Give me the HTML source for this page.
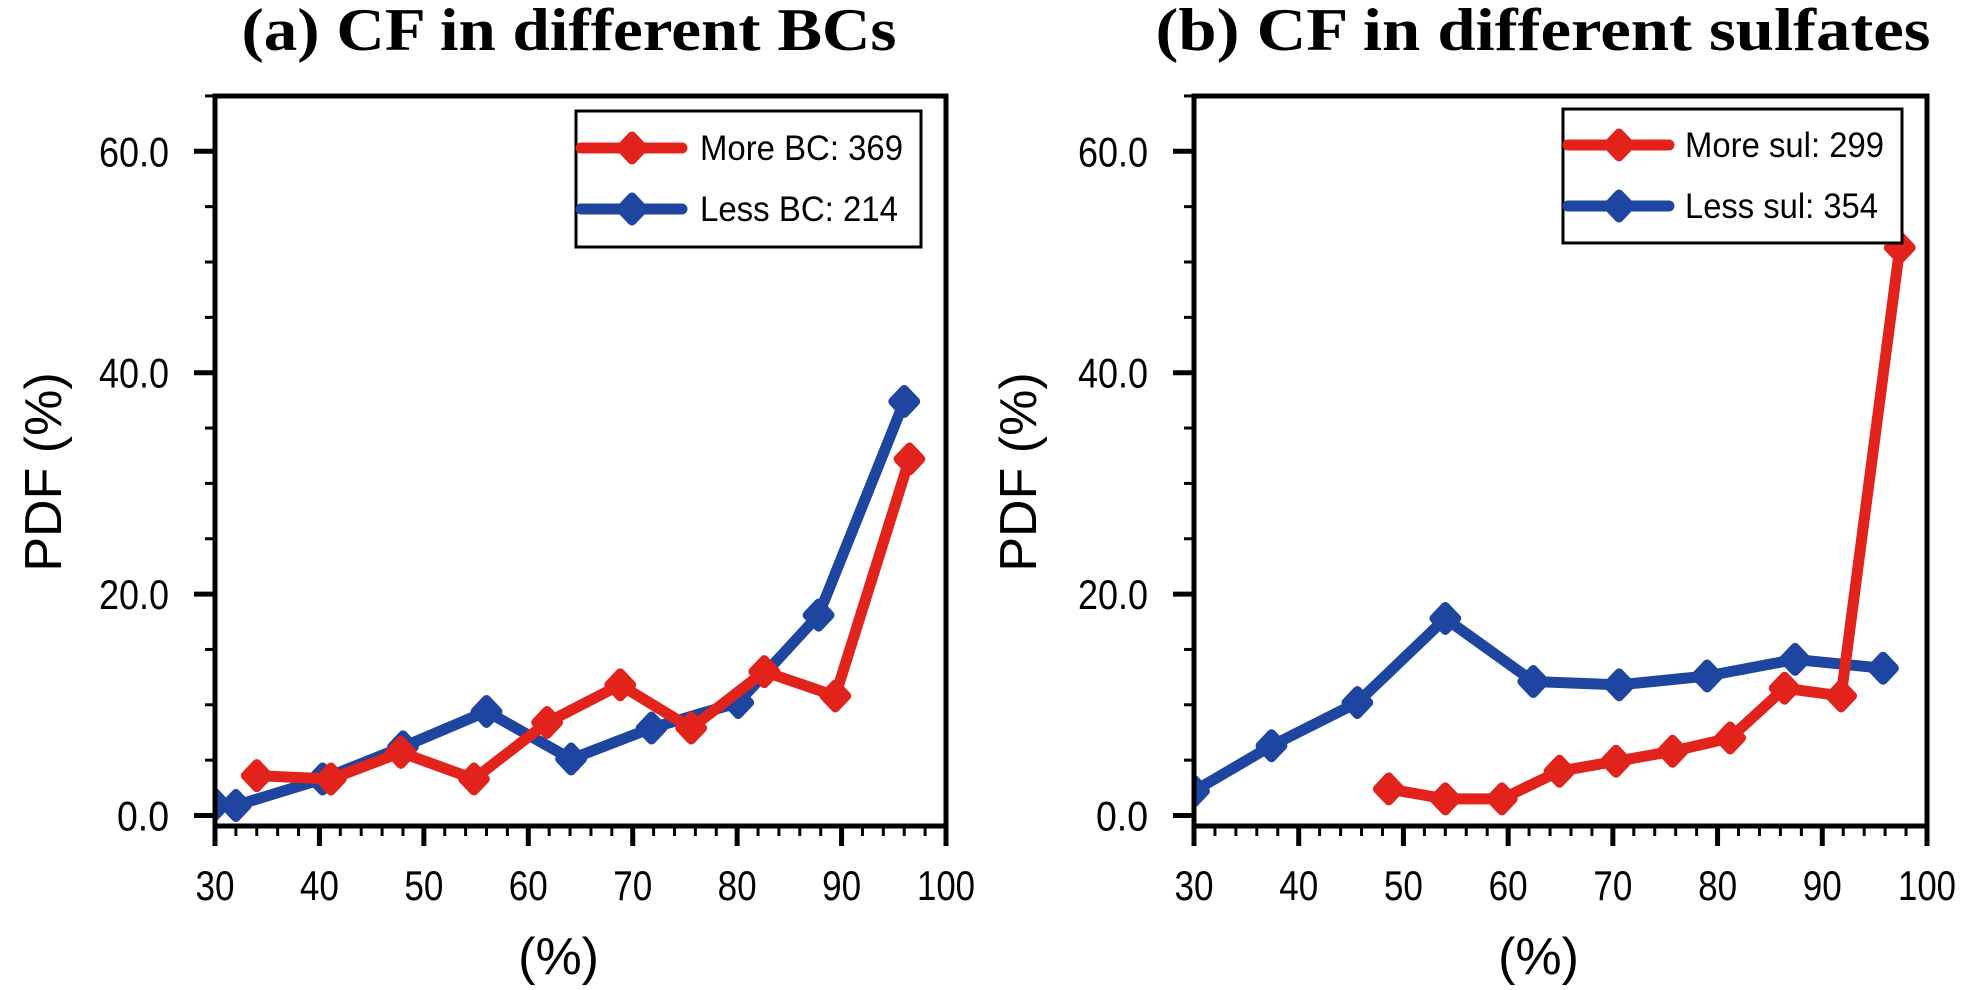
<!DOCTYPE html>
<html><head><meta charset="utf-8"><style>
html,body{margin:0;padding:0;background:#fff;}
svg{display:block;}
</style></head><body>
<svg id="chart" width="1961" height="990" viewBox="0 0 1961 990" xmlns="http://www.w3.org/2000/svg">
<defs>
<clipPath id="clipA"><rect x="215" y="96" width="731" height="730"/></clipPath>
<clipPath id="clipB"><rect x="1194" y="96" width="733" height="730"/></clipPath>
</defs>
<g id="panelA"></g>
<g id="panelB"></g>
</svg>
<script>
// Panel (a) data
const aMoreX = [34.0, 41.1, 47.8, 54.8, 61.8, 68.8, 75.6, 82.6, 89.4, 96.5];
const aMoreY = [3.6, 3.3, 5.7, 3.3, 8.4, 11.8, 7.9, 13.0, 10.8, 32.2];
const aLessX = [30.0, 32.0, 40.3, 48.0, 56.0, 64.1, 71.8, 80.1, 87.8, 96.0];
const aLessY = [1.0, 0.9, 3.3, 6.2, 9.4, 5.1, 7.9, 10.2, 18.1, 37.4];
// Panel (b) data
const bMoreX = [48.6, 54.0, 59.4, 64.9, 70.3, 75.7, 81.2, 86.4, 91.8, 97.4];
const bMoreY = [2.4, 1.5, 1.5, 4.0, 4.9, 5.8, 7.0, 11.5, 10.8, 51.3];
const bLessX = [30.0, 37.4, 45.6, 54.0, 62.4, 70.6, 79.0, 87.4, 95.8];
const bLessY = [2.2, 6.3, 10.2, 17.8, 12.1, 11.8, 12.6, 14.1, 13.3];
const xTicks = [30, 40, 50, 60, 70, 80, 90, 100];
const yTicks = [0, 20, 40, 60];
const yTickLabels = ["0.0", "20.0", "40.0", "60.0"];
const legendA = ["More BC: 369", "Less BC: 214"];
const legendB = ["More sul: 299", "Less sul: 354"];

const NS = "http://www.w3.org/2000/svg";
const RED = "#e2231c", BLUE = "#1e45a0";
function mk(tag, attrs, parent){const e=document.createElementNS(NS,tag);for(const k in attrs)e.setAttribute(k,attrs[k]);parent.appendChild(e);return e;}

const TOP=96, BOT=826, Y0=815.5, YS=11.07;
function yScale(v){return Y0 - v*YS;}

function diamond(cx,cy,color,parent,name){
  const r=12;
  const p=mk('path',{d:`M${cx},${cy-r} L${cx+r*0.95},${cy} L${cx},${cy+r} L${cx-r*0.95},${cy} Z`,fill:color,stroke:color,'stroke-width':9,'stroke-linejoin':'round'},parent);
  
  
  return p;
}

function drawPanel(g, L, R, clipId, title, titleCx, titleW, ylabX, series, legend, lg){
  const xScale = v => L + (v-30)/70*(R-L);
  const t=mk('text',{x:titleCx,y:50,'text-anchor':'middle','font-family':'"Liberation Serif",serif','font-weight':'bold','font-size':60,textLength:titleW,lengthAdjust:'spacingAndGlyphs'},g);
  t.textContent=title;
  
  
  const yl=mk('text',{x:0,y:0,transform:`translate(${ylabX},472) rotate(-90)`,'text-anchor':'middle','dominant-baseline':'central','font-family':'"Liberation Sans",sans-serif','font-size':52},g);
  yl.textContent='PDF (%)';
  
  
  const xl=mk('text',{x:(L+R)/2-(R-L)*0.03,y:974,'text-anchor':'middle','font-family':'"Liberation Sans",sans-serif','font-size':52},g);
  xl.textContent='(%)';
  
  
  for(let v=0; v<=65; v+=5){
    const y=yScale(v);
    const major = v%20===0;
    const tk=mk('line',{x1:L,x2:L-(major?21:10),y1:y,y2:y,stroke:'#000','stroke-width':major?5:3},g);
    
    
  }
  yTicks.forEach((v,i)=>{
    const tl=mk('text',{x:L-46,y:yScale(v)+15,'text-anchor':'end','font-family':'"Liberation Sans",sans-serif','font-size':42,textLength:yTickLabels[i].length===3?52:70,lengthAdjust:'spacingAndGlyphs'},g);
    tl.textContent=yTickLabels[i];
    
    
  });
  for(let v=30; v<=100; v+=2){
    const x=xScale(v);
    const major=v%10===0;
    const tk=mk('line',{x1:x,x2:x,y1:BOT,y2:BOT+(major?20:10),stroke:'#000','stroke-width':major?5:3},g);
    
    
  }
  xTicks.forEach(v=>{
    const tl=mk('text',{x:xScale(v),y:900,'text-anchor':'middle','font-family':'"Liberation Sans",sans-serif','font-size':42,textLength:v===100?58:39,lengthAdjust:'spacingAndGlyphs'},g);
    tl.textContent=String(v);
    
    
  });
  const sg=mk('g',{'clip-path':`url(#${clipId})`},g);
  
  
  series.forEach(s=>{
    const pts=s.x.map((v,i)=>`${xScale(v)},${yScale(s.y[i])}`).join(' ');
    const pl=mk('polyline',{points:pts,fill:'none',stroke:s.c,'stroke-width':11,'stroke-linejoin':'round','stroke-linecap':'round'},sg);
    
    
    s.x.forEach((v,i)=>diamond(xScale(v),yScale(s.y[i]),s.c,sg,s.n+'-marker'));
  });
  const fr=mk('rect',{x:L,y:TOP,width:R-L,height:BOT-TOP,fill:'none',stroke:'#000','stroke-width':5},g);
  
  
  const lgG=mk('g',{},g);
  
  
  mk('rect',{x:lg.x,y:lg.y,width:lg.w,height:lg.h,fill:'#fff',stroke:'#000','stroke-width':3},lgG);
  [[RED,lg.r],[BLUE,lg.b]].forEach((c,i)=>{
    const e=mk('g',{},lgG);
    
    
    mk('line',{x1:lg.x+5,x2:lg.x+106,y1:c[1],y2:c[1],stroke:c[0],'stroke-width':11,'stroke-linecap':'round'},e);
    diamond(lg.x+56,c[1],c[0],e,'legend-marker');
    const tx=mk('text',{x:lg.tx,y:c[1]+12,'font-family':'"Liberation Sans",sans-serif','font-size':35,textLength:lg.tw[i],lengthAdjust:'spacingAndGlyphs'},e);
    tx.textContent=legend[i];
  });
}

drawPanel(document.getElementById('panelA'),215,946,'clipA','(a) CF in different BCs',569,655,44,
  [{x:aLessX,y:aLessY,c:BLUE,n:'less-bc'},{x:aMoreX,y:aMoreY,c:RED,n:'more-bc'}],
  legendA,{x:576,y:111,w:345,h:136,r:148,b:209,tx:700,tw:[203,198]});
drawPanel(document.getElementById('panelB'),1194,1927,'clipB','(b) CF in different  sulfates',1543,775,1019,
  [{x:bLessX,y:bLessY,c:BLUE,n:'less-sul'},{x:bMoreX,y:bMoreY,c:RED,n:'more-sul'}],
  legendB,{x:1563,y:109,w:339,h:134,r:145,b:206,tx:1685,tw:[199,193]});
</script>
</body></html>
